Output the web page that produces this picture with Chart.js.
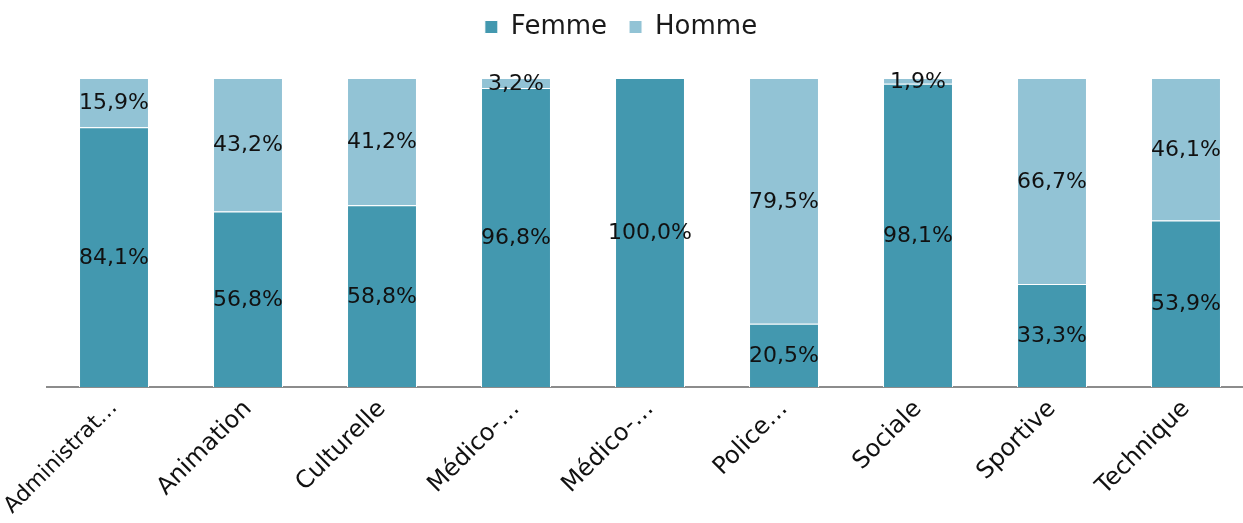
<!DOCTYPE html>
<html>
<head>
<meta charset="utf-8">
<script src="https://cdn.jsdelivr.net/npm/chart.js@4/dist/chart.umd.min.js"></script>
<style>
  html, body { margin: 0; padding: 0; background: #fff; overflow: hidden; }
  #wrap { width: 1256px; height: 523px; position: relative; }
</style>
</head>
<body>
<div id="wrap"><canvas id="chart"></canvas></div>
<script>
// categories (truncated as in the source chart)
const categories = ['Administrat…', 'Animation', 'Culturelle', 'Médico-…', 'Médico-…', 'Police…', 'Sociale', 'Sportive', 'Technique'];
// percentages per category
const femme = [84.1, 56.8, 58.8, 96.8, 100.0, 20.5, 98.1, 33.3, 53.9];
const homme = [15.9, 43.2, 41.2, 3.2, 0, 79.5, 1.9, 66.7, 46.1];

const FONT = "'DejaVu Sans', sans-serif";

/* --- value labels in the middle of each segment --- */
const segmentLabels = {
    id: 'segmentLabels',
    afterDatasetsDraw(chart) {
        const ctx = chart.ctx;
        ctx.save();
        ctx.font = '22px ' + FONT;
        ctx.fillStyle = '#111';
        ctx.textAlign = 'center';
        ctx.textBaseline = 'middle';
        chart.data.datasets.forEach((ds, i) => {
            const meta = chart.getDatasetMeta(i);
            meta.data.forEach((bar, j) => {
                const v = ds.data[j];
                if (!v) return;
                const y = (bar.y + bar.base) / 2;
                ctx.fillText(v.toFixed(1).replace('.', ',') + '%', bar.x, y + 1);
            });
        });
        ctx.restore();
    }
};

// legend nudged up/left to sit like the original
const legendPlace = {
    id: 'legendPlace',
    afterLayout(chart) {
        const lg = chart.legend;
        lg.top -= 28; lg.bottom -= 28;
        lg.left -= 29; lg.right -= 29;
    }
};

new Chart(document.getElementById('chart'), {
    type: 'bar',
    data: {
        labels: categories,
        datasets: [
            {
                label: 'Femme',
                data: femme,
                backgroundColor: '#4398AF',
                borderColor: '#ffffff',
                borderWidth: 1
            },
            {
                label: 'Homme',
                data: homme,
                backgroundColor: '#92C3D5',
                borderColor: '#ffffff',
                borderWidth: 1
            }
        ]
    },
    options: {
        responsive: true,
        maintainAspectRatio: false,
        animation: false,
        layout: { padding: { left: 47, right: 3, top: 20, bottom: 0 } },
        datasets: {
            bar: { categoryPercentage: 1.0, barPercentage: 0.522 }
        },
        plugins: {
            legend: {
                position: 'top',
                labels: {
                    boxWidth: 13,
                    boxHeight: 13,
                    padding: 22,
                    color: '#1a1a1a',
                    font: { family: FONT, size: 26 }
                }
            },
            tooltip: { enabled: false }
        },
        scales: {
            x: {
                stacked: true,
                grid: { display: false, drawTicks: false },
                border: { display: true, color: '#8c8c8c', width: 2 },
                ticks: {
                    color: '#111',
                    // first label a touch smaller so it stays inside the page
                    font: (c) => ({ family: FONT, size: c.index === 0 ? 22 : 24 }),
                    minRotation: 45,
                    maxRotation: 45,
                    autoSkip: false,
                    padding: 8
                },
                afterFit(scale) {
                    scale.height = 136;
                    scale.paddingLeft = 0;
                    scale.paddingRight = 0;
                }
            },
            y: {
                stacked: true,
                display: false,
                min: 0,
                max: 100
            }
        }
    },
    plugins: [segmentLabels, legendPlace]
});
</script>
</body>
</html>
